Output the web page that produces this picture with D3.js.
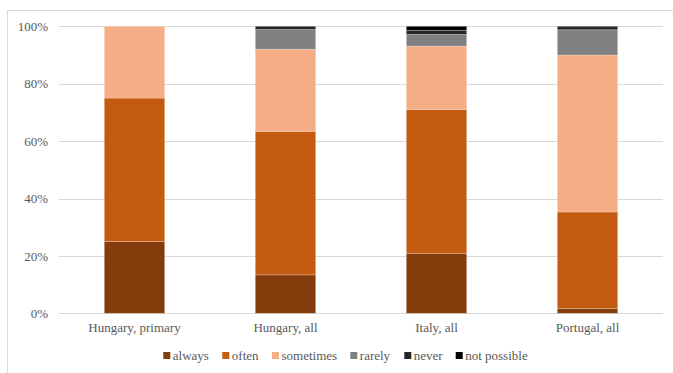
<!DOCTYPE html>
<html>
<head>
<meta charset="utf-8">
<script src="https://cdn.jsdelivr.net/npm/d3@7"></script>
<style>
  html, body { margin: 0; padding: 0; background: #fff; }
  svg { display: block; }
  svg text { font-family: "Liberation Serif", "Times New Roman", Times, serif; font-size: 13px; fill: #595959; }
</style>
</head>
<body>
<svg id="chart" width="673" height="373"></svg>
<script>
// Response shares (percent) per group, stacked bottom to top
const categories = ["Hungary, primary", "Hungary, all", "Italy, all", "Portugal, all"];
const seriesNames = ["always", "often", "sometimes", "rarely", "never", "not possible"];
const always      = [25.0, 13.4, 20.9, 1.7];
const often       = [50.0, 50.0, 50.1, 33.6];
const sometimes   = [25.0, 28.6, 22.1, 54.7];
const rarely      = [0.0, 6.9, 4.1, 8.8];
const never       = [0.0, 1.1, 1.4, 1.2];
const notPossible = [0.0, 0.0, 1.4, 0.0];
const yTicks = [0, 20, 40, 60, 80, 100];

const colors = ["#843C0C", "#C55A11", "#F4AD84", "#808080", "#262626", "#000000"];

const seriesValues = [always, often, sometimes, rarely, never, notPossible];
const rows = categories.map((c, i) => {
  const r = { category: c };
  seriesNames.forEach((s, k) => { r[s] = seriesValues[k][i]; });
  return r;
});

const svg = d3.select("#chart");
const W = 673, H = 373;
const plot = { left: 59, right: 663, top: 26.3, bottom: 313.3 };

// outer chart frame
svg.append("rect")
  .attr("x", 7.5).attr("y", 10.5)
  .attr("width", W + 10).attr("height", H + 10)
  .attr("fill", "none").attr("stroke", "#D9D9D9").attr("stroke-width", 1);

const x = d3.scaleBand().domain(categories).range([plot.left, plot.right]).paddingInner(0.6).paddingOuter(0.3);
const y = d3.scaleLinear().domain([0, 100]).range([plot.bottom, plot.top]);

// horizontal gridlines
svg.append("g").selectAll("line").data(yTicks).join("line")
  .attr("x1", plot.left).attr("x2", plot.right)
  .attr("y1", d => Math.round(y(d)) + 0.5).attr("y2", d => Math.round(y(d)) + 0.5)
  .attr("stroke", "#D9D9D9").attr("stroke-width", 1);

// percentage labels
const yAxis = d3.axisLeft(y).tickValues(yTicks).tickFormat(d => d + "%").tickSize(0).tickPadding(0);
const gy = svg.append("g").attr("transform", `translate(${plot.left - 11},0)`).call(yAxis);
gy.attr("font-family", null).attr("font-size", null);
gy.select(".domain").remove();
gy.selectAll("text").attr("fill", null);

// stacked bars
const stack = d3.stack().keys(seriesNames);
const layers = stack(rows);
svg.append("g").selectAll("g").data(layers).join("g")
  .attr("fill", (d, i) => colors[i])
  .selectAll("rect").data(d => d.filter(p => p[1] - p[0] > 0)).join("rect")
  .attr("x", d => x(d.data.category))
  .attr("width", x.bandwidth())
  .attr("y", d => y(d[1]))
  .attr("height", d => y(d[0]) - y(d[1]))
  .attr("stroke", "rgba(255,255,255,0.3)").attr("stroke-width", 0.75);

// category labels
const xAxis = d3.axisBottom(x).tickSize(0).tickPadding(0);
const gx = svg.append("g").attr("transform", `translate(0,${plot.bottom + 18.5})`).call(xAxis);
gx.attr("font-family", null).attr("font-size", null);
gx.select(".domain").remove();
gx.selectAll("text").attr("fill", null).attr("dy", 0);

// legend
const legendX = [163.3, 222.3, 272, 350.3, 404.3, 455.7];
const legend = svg.append("g");
const items = legend.selectAll("g").data(seriesNames).join("g")
  .attr("transform", (d, i) => `translate(${legendX[i]},352)`);
items.append("rect").attr("width", 7).attr("height", 7).attr("fill", (d, i) => colors[i]);
items.append("text").attr("x", 9.5).attr("y", 8).text(d => d);
</script>
</body>
</html>
